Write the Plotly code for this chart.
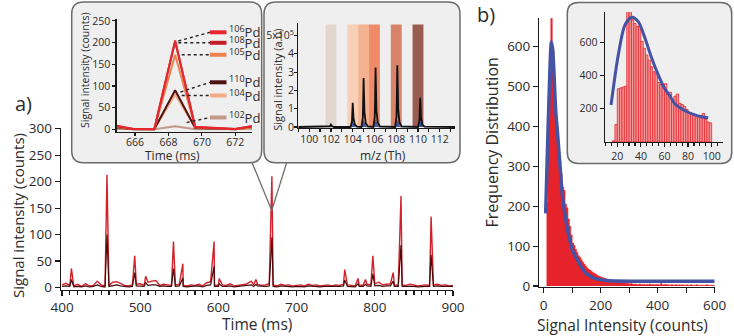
import plotly.graph_objects as go

W, H = 734, 336
FONT = "Open Sans"
TXT = "#2b2b2b"


def px(x):
    return x / W


def py(y):
    return 1 - y / H


# ---------------- (a) main time trace ----------------
base_time = list(range(400, 901, 5))
base_red = [5, 8, 4, 3, 6, 2, 7, 3, 4, 12, 5, 3, 4, 10, 11, 8, 4, 3, 5, 6,
            7, 4, 10, 12, 13, 4, 6, 5, 4, 5, 6, 4, 3, 5, 4, 6, 3, 9, 11, 5,
            4, 5, 4, 7, 3, 4, 5, 6, 10, 5, 6, 4, 5, 7, 5, 3, 6, 4, 5, 3,
            4, 5, 3, 6, 4, 5, 3, 4, 5, 3, 5, 4, 6, 5, 4, 3, 5, 4, 6, 5,
            7, 10, 5, 6, 7, 5, 4, 5, 4, 6, 5, 3, 4, 5, 4, 5, 6, 4, 5, 3, 4]
base_dark = [2, 3, 2, 1, 2, 1, 3, 1, 2, 5, 2, 1, 2, 4, 5, 3, 2, 1, 2, 3,
             3, 2, 4, 5, 5, 2, 3, 2, 2, 2, 3, 2, 1, 2, 2, 3, 1, 4, 5, 2,
             2, 2, 2, 3, 1, 2, 2, 3, 4, 2, 3, 2, 2, 3, 2, 1, 3, 2, 2, 1,
             2, 2, 1, 3, 2, 2, 1, 2, 2, 1, 2, 2, 3, 2, 2, 1, 2, 2, 3, 2,
             3, 4, 2, 3, 3, 2, 2, 2, 2, 3, 2, 1, 2, 2, 2, 2, 3, 2, 2, 1, 2]
peak_time = [412, 457.5, 493, 507, 542.5, 554.5, 594.5, 601, 642, 648, 668.4,
             761.5, 778.5, 788, 797.5, 823.5, 833.5, 872]
peak_red = [36, 213, 60, 21, 87, 45, 87, 17, 12, 15, 210, 34, 17, 15, 60, 28, 173, 134]
peak_dark = [15, 100, 28, 9, 36, 18, 40, 7, 5, 6, 95, 14, 7, 6, 26, 12, 80, 62]

# ---------------- (a) inset 1: isotopes vs time ----------------
inset_time = [664.7, 665.9, 667.15, 668.4, 669.6, 670.8, 672.0, 673.2]
iso_names = ["106", "108", "105", "110", "104", "102"]
iso_values = {
    "106": [10, 1, 1, 205, 6, 3, 1, 9],
    "108": [8, 1, 0, 203, 5, 3, 1, 8],
    "105": [6, 1, 0, 172, 4, 2, 0, 5],
    "110": [5, 0, 0, 90, 3, 1, 0, 6],
    "104": [4, 0, 0, 80, 3, 1, 0, 4],
    "102": [1, 0, 0, 7, 0, 0, 0, 1],
}
iso_colors = {"106": "#e6282e", "108": "#c41e2a", "105": "#ec8452",
              "110": "#4e1010", "104": "#f4ac84", "102": "#c29888"}

# ---------------- (a) inset 2: mass spectrum ----------------
spec_mz = [99.0, 101.8, 101.92, 102.0, 102.1, 102.3,
           103.8, 103.93, 104.0, 104.08, 104.2, 104.4,
           104.8, 104.93, 105.0, 105.08, 105.2, 105.4,
           105.9, 106.03, 106.1, 106.18, 106.3, 106.5,
           107.9, 108.03, 108.1, 108.18, 108.3, 108.5,
           110.0, 110.13, 110.2, 110.28, 110.4, 110.6, 113.4]
spec_int = [0, 0, 0.04, 0.13, 0.04, 0,
            0, 0.3, 1.32, 0.45, 0.12, 0.02,
            0, 0.5, 2.68, 0.8, 0.2, 0.03,
            0, 0.6, 3.25, 0.9, 0.25, 0.03,
            0, 0.6, 3.38, 0.95, 0.25, 0.03,
            0, 0.35, 1.6, 0.5, 0.12, 0.02, 0]
fit_mz = [101.75, 101.88, 102.0, 102.12, 102.25,
          103.75, 103.88, 104.0, 104.12, 104.25,
          104.75, 104.88, 105.0, 105.12, 105.25,
          105.85, 105.98, 106.1, 106.22, 106.35,
          107.85, 107.98, 108.1, 108.22, 108.35,
          109.95, 110.08, 110.2, 110.32, 110.45]
fit_int = [0, 0.02, 0.05, 0.02, 0,
           0, 0.15, 0.3, 0.15, 0,
           0, 0.18, 0.36, 0.18, 0,
           0, 0.2, 0.4, 0.2, 0,
           0, 0.18, 0.36, 0.18, 0,
           0, 0.15, 0.3, 0.15, 0]
band_lo = [101.5, 103.5, 104.5, 105.5, 107.5, 109.5]
band_hi = [102.5, 104.5, 105.5, 106.5, 108.5, 110.5]
band_colors = ["#e2d7cf", "#f8d0b6", "#f5b290", "#ef8b68", "#d9826a", "#9a5c52"]

# ---------------- (b) histogram ----------------
hist_left = list(range(10, 600, 5))
hist_count = [208, 420, 590, 671, 600, 530, 462, 400, 352, 312,
              282, 248, 240, 205, 196, 168, 150, 128, 108, 102,
              92, 84, 76, 72, 66, 60, 55, 50, 46, 42,
              40, 37, 34, 32, 30, 27, 25, 24, 22, 21,
              20, 18, 17, 16, 15, 14, 13, 12, 12, 11,
              10, 10, 9, 8, 8, 7, 7, 6, 5, 6,
              5, 4, 5, 4, 4, 5, 3, 4, 4, 3,
              4, 3, 5, 3, 4, 3, 3, 4, 3, 3,
              6, 3, 3, 4, 3, 3, 2, 3, 3, 2,
              3, 3, 2, 3, 2, 3, 2, 2, 3, 2,
              2, 3, 2, 2, 2, 3, 2, 2, 2, 2,
              2, 2, 3, 2, 2, 2, 2, 2]
fit_b_x = [7, 27, 32, 42, 48, 54, 66, 84, 101, 125, 148, 178, 220, 300, 600]
fit_b_y = [182, 612, 590, 441, 388, 333, 224, 140, 90, 57, 32, 19, 14, 12, 12]

inset_b_left = list(range(16, 100, 2))
inset_b_count = [8, 105, 320, 325, 330, 335,
                 790, 785, 735, 712, 693, 698, 605, 563, 522, 492, 452, 422, 412, 358, 346, 346,
                 350, 300, 298, 255, 275, 288, 232, 225, 214, 195, 178, 170, 160, 145, 152, 160,
                 172, 135, 120, 115]
fit_bi_x = [14.7, 20.8, 26.5, 32.2, 37.8, 43.5, 49.2, 54.8, 60.4, 64.7, 68.9, 77.4, 85.8, 92, 97]
fit_bi_y = [222, 522, 703, 750, 723, 623, 503, 402, 318, 276, 228, 188, 163, 150, 145]


def merge(bt, bv, pt, pv):
    d = dict(zip(bt, bv))
    for t, v in zip(pt, pv):
        d[t] = v
    ks = sorted(d)
    return ks, [d[k] for k in ks]


red_t, red_v = merge(base_time, base_red, peak_time, peak_red)
dark_t, dark_v = merge(base_time, base_dark, peak_time, peak_dark)

fig = go.Figure()

# main (a)
fig.add_trace(go.Scatter(x=red_t, y=red_v, mode="lines", line=dict(color="#d3202b", width=1.4),
                         xaxis="x", yaxis="y", showlegend=False))
fig.add_trace(go.Scatter(x=dark_t, y=dark_v, mode="lines", line=dict(color="#470909", width=1.2),
                         xaxis="x", yaxis="y", showlegend=False))

# inset 1
for name in ["102", "104", "110", "105", "108", "106"]:
    fig.add_trace(go.Scatter(x=inset_time, y=iso_values[name], mode="lines",
                             line=dict(color=iso_colors[name], width=2),
                             xaxis="x2", yaxis="y2", showlegend=False))

# inset 2
fig.add_trace(go.Scatter(x=fit_mz, y=fit_int, mode="lines", fill="tozeroy",
                         fillcolor="#3b5aa6", line=dict(color="#3b5aa6", width=0.5),
                         xaxis="x3", yaxis="y3", showlegend=False))
fig.add_trace(go.Scatter(x=spec_mz, y=spec_int, mode="lines", line=dict(color="#111111", width=1.8),
                         xaxis="x3", yaxis="y3", showlegend=False))

# main (b): histogram as a solid step area (bin edges -> counts)
hist_x = hist_left + [hist_left[-1] + 5]
hist_y = hist_count + [hist_count[-1]]
fig.add_trace(go.Scatter(x=hist_x, y=hist_y, mode="lines", line=dict(color="#e6232b", width=0.6, shape="hv"),
                         fill="tozeroy", fillcolor="#e6232b",
                         xaxis="x4", yaxis="y4", showlegend=False))
fig.add_trace(go.Scatter(x=fit_b_x, y=fit_b_y, mode="lines",
                         line=dict(color="#4553a5", width=3.5, shape="spline", smoothing=0.5),
                         xaxis="x4", yaxis="y4", showlegend=False))

# inset (b)
fig.add_trace(go.Bar(x=[v + 1 for v in inset_b_left], y=inset_b_count, width=2,
                     marker=dict(color="#f39c9c", line=dict(color="#e8262e", width=0.8)),
                     xaxis="x5", yaxis="y5", showlegend=False))
fig.add_trace(go.Scatter(x=fit_bi_x, y=fit_bi_y, mode="lines",
                         line=dict(color="#4553a5", width=3, shape="spline", smoothing=0.8),
                         xaxis="x5", yaxis="y5", showlegend=False))


def axis(dom, rng, fs, anchor, **kw):
    d = dict(domain=dom, range=rng, anchor=anchor, showline=True, linecolor="#1a1a1a", linewidth=1.3,
             ticks="outside", tickcolor="#1a1a1a", ticklen=5, tickwidth=1.2, showgrid=False,
             zeroline=False, automargin=False, tickfont=dict(family=FONT, size=fs, color=TXT),
             fixedrange=True)
    d.update(kw)
    return d


layout = dict(
    width=W, height=H, margin=dict(l=0, r=0, t=0, b=0, pad=0, autoexpand=False),
    paper_bgcolor="white", plot_bgcolor="rgba(0,0,0,0)",
    font=dict(family=FONT, color=TXT),
    barmode="overlay",
)
layout["xaxis"] = axis([px(61), px(453)], [398.7, 900], 13.5, "y", tickvals=[400, 500, 600, 700, 800, 900],
                       minor=dict(dtick=10, ticks="outside", ticklen=4, tickcolor="#1a1a1a"))
layout["yaxis"] = axis([py(289.5), py(127.7)], [-3.8, 302], 13.5, "x", tickvals=[0, 50, 100, 150, 200, 250, 300])
layout["xaxis2"] = axis([px(116.7), px(252)], [664.9, 673.0], 10.5, "y2", tickvals=[666, 668, 670, 672], ticklen=3,
                        ticklabelstandoff=-2)
layout["yaxis2"] = axis([py(131.5), py(19.1)], [-5, 254], 10.5, "x2", tickvals=[0, 50, 100, 150, 200, 250], ticklen=3)
layout["xaxis3"] = axis([px(298.3), px(455)], [99.0, 113.4], 10.5, "y3", tickvals=[100, 102, 104, 106, 108, 110, 112],
                        ticklen=3, ticklabelstandoff=-2,
                        minor=dict(dtick=1, ticks="outside", ticklen=3, tickcolor="#1a1a1a"))
layout["yaxis3"] = axis([py(128), py(22.7)], [-0.055, 5.7], 10.5, "x3", tickvals=[0, 1, 2, 3, 4, 5],
                        ticktext=["0", "1", "2", "3", "4", "5x10<sup>5</sup>"], ticklen=3, ticklabelstandoff=-2)
layout["xaxis4"] = axis([px(539.3), px(714.7)], [-15.4, 600], 13.5, "y4", tickvals=[0, 200, 400, 600],
                        minor=dict(dtick=100, ticks="outside", ticklen=5, tickcolor="#1a1a1a"))
layout["yaxis4"] = axis([py(287), py(18)], [-2.5, 672], 13.5, "x4", tickvals=[0, 100, 200, 300, 400, 500, 600])
layout["xaxis5"] = axis([px(605), px(723)], [9.58, 109.6], 10.5, "y5", tickvals=[20, 40, 60, 80, 100], ticklen=4,
                        minor=dict(dtick=5, ticks="outside", ticklen=3, tickcolor="#1a1a1a"))
layout["yaxis5"] = axis([py(142), py(12)], [0, 781], 10.5, "x5", tickvals=[200, 400, 600], ticklen=4)


def rbox(x0, y0, x1, y1, r):
    rx, ry = r / W, r / H
    X0, X1, Y0, Y1 = px(x0), px(x1), py(y0), py(y1)
    p = (f"M {X0+rx},{Y0} L {X1-rx},{Y0} Q {X1},{Y0} {X1},{Y0-ry} L {X1},{Y1+ry} "
         f"Q {X1},{Y1} {X1-rx},{Y1} L {X0+rx},{Y1} Q {X0},{Y1} {X0},{Y1+ry} "
         f"L {X0},{Y0-ry} Q {X0},{Y0} {X0+rx},{Y0} Z")
    return dict(type="path", path=p, xref="paper", yref="paper", layer="below",
                fillcolor="#efefef", line=dict(color="#6b6b6b", width=1.5))


def pline(x0, y0, x1, y1, color, width, dash="solid"):
    return dict(type="line", xref="paper", yref="paper", x0=px(x0), y0=py(y0), x1=px(x1), y1=py(y1),
                line=dict(color=color, width=width, dash=dash), layer="above")


shapes = [rbox(71.7, 2, 261.7, 162.7, 12), rbox(264, 2, 460, 162.7, 12), rbox(567.3, 2.5, 731.7, 163.5, 11)]
for lo, hi, c in zip(band_lo, band_hi, band_colors):
    shapes.append(dict(type="rect", xref="x3", yref="y3", x0=lo, x1=hi, y0=0, y1=5.6,
                       fillcolor=c, line=dict(width=0), layer="below"))
# connector lines
shapes.append(pline(251.7, 161.7, 271.7, 210.5, "#707070", 1.3))
shapes.append(pline(286.7, 162.5, 271.7, 210.5, "#707070", 1.3))

# legend leaders in inset 1
legend_y = {"106": 32.3, "108": 42.8, "105": 54.8, "110": 82.3, "104": 95.5, "102": 117.5}
leader_start = {"106": (178.3, 41.0), "108": (178.3, 42.8), "105": (181.7, 54.8),
                "110": (180.5, 92.0), "104": (181.7, 95.5), "102": (186.7, 122.5)}
annotations = []
for n in iso_names:
    sx, sy = leader_start[n]
    shapes.append(pline(sx, sy, 210, legend_y[n], "#222222", 1.4, "dot"))
    shapes.append(pline(210, legend_y[n], 226.5, legend_y[n], iso_colors[n], 4))
    annotations.append(dict(x=px(227), y=py(legend_y[n] - 0.5), xref="paper", yref="paper", xanchor="left",
                            yanchor="middle", showarrow=False, text=f"<sup>{n}</sup>Pd",
                            font=dict(family=FONT, size=13, color=TXT)))


def label(x, y, text, size, angle=0):
    annotations.append(dict(x=px(x), y=py(y), xref="paper", yref="paper", xanchor="center", yanchor="middle",
                            showarrow=False, text=text, textangle=angle,
                            font=dict(family=FONT, size=size, color=TXT)))


label(18, 216, "Signal intensity (counts)", 15, -90)
label(257, 324, "Time (ms)", 15.5)
label(491.5, 143, "Frequency Distribution", 16, -90)
label(622, 325, "Signal Intensity (counts)", 15.5)
label(85, 71, "Signal intensity (counts)", 10.5, -90)
label(172.7, 155.5, "Time (ms)", 12)
label(276.7, 80, "Signal intensity (a.u)", 11, -90)
label(383.3, 155.5, "m/z (Th)", 12)
label(24, 103, "a)", 20)
label(486, 15, "b)", 20)

layout["shapes"] = shapes
layout["annotations"] = annotations
fig.update_layout(**layout)
fig.write_html("out.html", config={"displayModeBar": False, "staticPlot": True},
               post_script="document.body.style.margin='0';document.body.style.padding='0';"
                           "document.body.style.overflow='hidden';")
